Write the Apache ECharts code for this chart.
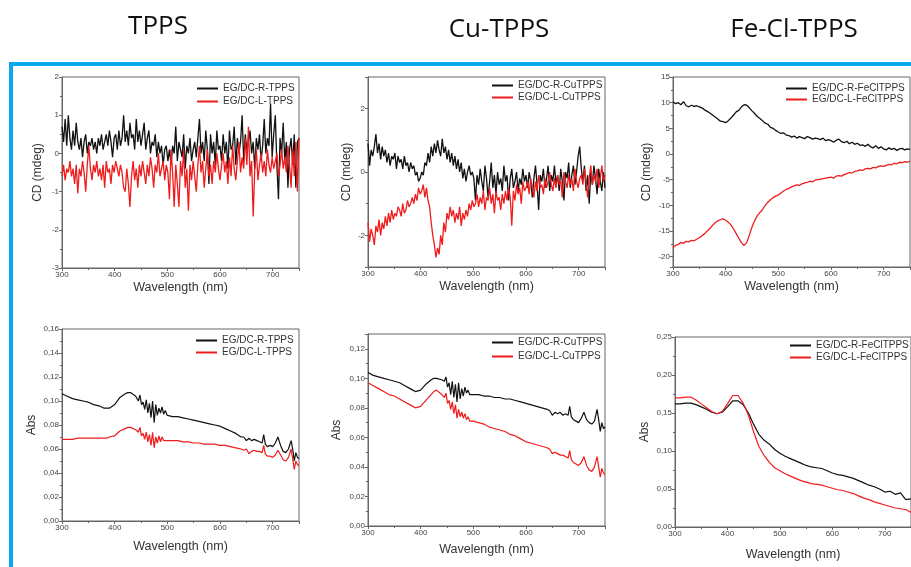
<!DOCTYPE html>
<html>
<head>
<meta charset="utf-8">
<script src="https://cdn.jsdelivr.net/npm/echarts@6/dist/echarts.min.js"></script>
<style>
html,body{margin:0;padding:0;background:#fff;}
#chart{width:911px;height:567px;}
</style>
</head>
<body>
<div id="chart"></div>
<script>
// ---------- Panel titles ----------
const PANEL_TITLES = ['TPPS', 'Cu-TPPS', 'Fe-Cl-TPPS'];
const SERIES_NAMES = [
  ['EG/DC-R-TPPS', 'EG/DC-L-TPPS'],
  ['EG/DC-R-CuTPPS', 'EG/DC-L-CuTPPS'],
  ['EG/DC-R-FeClTPPS', 'EG/DC-L-FeClTPPS']
];

// ---------- Wavelength grids ----------
const CD_STEP3_START = 300, CD_STEP3 = 3;   // TPPS & CuTPPS CD (noisy)
const CD_STEP5_START = 300, CD_STEP5 = 5;   // FeClTPPS CD
const ABS_WL = [300,310,320,330,340,350,360,370,380,385,390,400,410,420,425,430,440,
  445,448,451,454,457,460,463,466,469,472,475,478,481,484,487,490,493,496,
  500,510,520,530,540,550,560,570,580,590,600,610,620,630,640,
  645,650,655,660,665,670,675,680,683,686,
  690,695,700,705,710,715,720,725,730,735,738,741,744,747,750];
const FE_ABS_START = 300, FE_ABS_STEP = 10;

// ---------- CD TPPS ----------
const CD_TPPS_R = [
  0.7,0.3,0.9,0.2,1.0,0.4,0.1,0.6,0.2,0.8,0.3,
  0.1,0.4,-0.1,0.3,0.5,0.0,0.3,0.2,0.4,0.1,
  0.3,0.0,0.4,0.2,0.5,0.1,0.3,0.5,0.2,0.6,0.3,-0.1,0.4,
  0.5,0.1,0.6,0.2,0.4,1.0,0.3,0.6,0.2,0.8,0.4,0.5,0.1,0.9,0.3,0.6,0.2,
  0.5,0.8,0.1,0.4,0.6,0.0,0.3,0.2,0.5,-0.1,0.3,0.0,0.2,-0.3,0.1,0.2,-0.2,
  0.1,-0.3,0.2,0.0,0.7,-0.2,0.3,0.1,-0.1,0.5,-0.4,0.2,0.0,0.4,-0.2,0.1,0.3,
  -0.1,0.4,0.9,0.0,0.3,-0.2,0.6,0.1,-0.8,0.5,0.0,0.3,-0.3,0.6,0.1,0.2,
  -0.2,0.5,0.0,0.3,-0.4,0.6,0.1,0.2,0.7,-0.3,0.4,0.0,0.3,1.0,-0.2,0.5,0.1,
  0.3,0.6,0.0,0.3,-0.4,0.4,0.1,0.5,-0.2,0.2,0.9,0.0,0.4,0.2,1.3,-0.1,0.5,
  1.0,-0.3,-1.2,0.4,0.0,0.8,-0.2,0.3,-0.9,0.1,0.4,-0.3,0.5,-0.9,0.3,0.4
];
const CD_TPPS_L = [
  -0.6,-0.3,-0.7,-0.4,-0.5,-0.2,-0.6,-0.4,-0.8,-0.3,-1.05,
  -0.4,-0.6,-0.2,-0.5,-1.0,-0.3,0.2,-0.4,-0.7,-0.3,
  -0.5,-0.2,-0.6,-0.4,-0.7,-0.3,-0.9,-0.2,-0.5,-0.4,-0.8,-0.3,-0.5,
  -0.2,-0.4,-0.6,-0.3,-0.5,-0.9,-1.0,-0.4,-0.8,-1.4,-0.6,-0.2,-0.7,-0.4,-0.9,-0.3,-0.6,
  -0.2,-0.5,-0.8,-0.3,-0.6,-0.1,-0.4,-0.9,-0.3,-0.5,0.0,-0.6,-0.4,-0.2,-0.7,-0.3,-0.5,
  -1.2,0.1,-0.5,-1.4,-0.3,-0.8,-1.4,-0.2,-0.6,0.1,-0.9,-0.4,-1.5,-0.3,-0.7,-0.2,-0.6,
  -1.0,-0.3,0.2,-0.5,-0.2,-0.9,-0.4,0.1,-0.6,-0.3,-0.8,-0.2,-0.5,0.0,-0.4,-0.7,
  -0.3,0.0,-0.5,-0.2,-0.8,-0.1,-0.6,0.2,-0.4,-0.7,-0.2,0.3,-0.5,-0.1,-0.4,0.4,-0.3,
  0.7,-0.6,-0.2,-1.65,-0.4,0.1,-0.7,-0.3,0.0,-0.5,-0.2,-0.6,0.1,-0.3,-0.5,-0.1,-0.4,
  -0.2,0.0,-0.6,-0.3,0.1,-0.4,-0.1,-0.5,0.2,-0.3,-0.9,0.1,-0.6,0.3,-1.0,0.4
];

// ---------- CD CuTPPS ----------
const CD_CU_R = [
  0.9,0.2,0.7,0.5,0.8,1.2,0.6,0.9,0.4,0.8,0.5,
  0.7,0.3,0.6,0.2,0.5,0.4,0.6,0.1,0.5,0.3,
  0.4,0.1,0.5,0.2,0.3,0.0,0.3,0.1,0.2,-0.1,0.0,-0.3,-0.2,
  0.0,-0.1,0.3,0.2,0.6,0.3,0.8,0.5,0.9,0.6,1.0,0.7,0.5,1.05,0.6,0.8,0.4,
  0.7,0.3,0.6,0.2,0.5,0.1,0.4,0.0,0.3,-0.2,0.1,-0.3,0.0,0.2,-0.1,0.0,-0.2,
  -0.9,-0.1,-0.4,0.1,-0.3,-0.6,0.2,-0.2,-0.8,-0.3,0.3,-0.5,-0.1,-0.7,0.0,-0.4,-0.2,
  -0.6,0.2,-0.3,-0.1,-0.9,-0.2,0.1,-0.5,-0.3,0.0,-0.6,-0.2,-0.4,0.1,-0.3,-0.1,
  -0.5,0.0,-0.3,-0.8,-0.2,0.2,-0.4,-1.2,-0.1,-0.3,0.1,-0.5,-0.2,0.2,-0.6,-0.1,-0.3,
  0.2,-0.4,-0.1,-0.6,0.1,-0.3,-0.9,0.0,-0.2,0.3,-0.5,-0.1,0.2,-0.4,0.0,0.5,0.8,
  0.1,-0.3,0.2,-0.6,-0.1,-1.0,0.0,-0.4,0.2,-0.2,-0.7,0.1,-0.3,-0.6,0.0,-0.5
];
const CD_CU_L = [
  -1.6,-2.2,-1.8,-2.0,-2.3,-1.7,-1.9,-1.5,-2.0,-1.6,-1.8,
  -1.4,-1.7,-1.3,-1.6,-1.2,-1.5,-1.3,-1.4,-1.1,-1.2,
  -1.4,-1.0,-1.3,-1.2,-0.9,-1.1,-1.0,-0.8,-1.0,-0.7,-0.9,-0.5,-0.7,
  -0.6,-0.4,-0.8,-0.5,-0.9,-1.1,-1.6,-2.0,-2.3,-2.7,-2.4,-2.6,-2.0,-2.3,-1.6,-1.9,-1.3,
  -1.5,-1.1,-1.4,-1.2,-1.6,-1.3,-1.5,-1.1,-1.7,-1.3,-1.5,-1.2,-1.4,-1.0,-1.2,-0.9,-1.1,
  -1.0,-0.7,-1.1,-0.8,-1.0,-0.6,-1.2,-0.8,-0.9,-0.5,-1.0,-0.7,-1.3,-0.6,-0.9,-0.8,-1.2,
  -0.7,-1.0,-0.6,-0.9,-0.5,-0.8,-1.7,-0.6,-0.9,-0.4,-0.7,-0.5,-1.0,-0.3,-0.6,-0.5,
  -0.3,-0.7,-0.2,-0.5,-0.8,-0.3,-0.6,-0.1,-0.5,-0.4,-0.7,-0.2,-0.5,-0.3,0.0,-0.4,-0.6,
  -0.2,-0.5,-0.1,-0.4,-0.3,-0.8,0.0,-0.3,-0.5,-0.1,-0.4,-0.2,-0.6,0.1,-0.3,-0.5,-0.2,
  -0.1,-0.4,0.1,-0.3,-0.8,-0.2,0.2,-0.4,-0.1,-0.3,0.1,-0.5,-0.2,0.2,-0.3,-0.1
];

// ---------- CD FeClTPPS (5 nm step) ----------
const CD_FE_R = [
  10.2,9.8,10.0,9.6,10.2,9.4,9.2,9.5,9.3,9.4,
  9.2,9.0,8.6,8.3,8.0,7.6,7.2,6.8,6.4,6.3,
  6.1,6.5,7.0,7.6,8.2,8.5,9.2,9.6,9.5,9.0,
  8.4,7.9,7.3,6.9,6.5,6.0,5.8,5.2,5.0,4.6,
  4.3,4.0,4.1,3.7,3.6,3.3,3.5,3.1,3.4,3.2,
  3.0,3.4,3.2,2.9,3.1,3.0,2.8,3.1,2.6,2.8,
  2.6,2.3,2.7,2.9,2.4,2.2,2.5,2.0,2.3,1.9,
  2.1,1.7,1.8,1.5,1.9,1.4,1.2,1.6,1.1,1.4,
  1.0,0.8,1.2,0.9,1.1,0.7,1.0,1.1,0.8,1.0,
  0.9
];
const CD_FE_L = [
  -18.2,-17.8,-17.6,-17.2,-17.4,-17.0,-17.1,-16.8,-16.9,-16.6,
  -16.3,-15.9,-15.5,-15.0,-14.5,-13.9,-13.4,-13.0,-12.8,-12.6,
  -12.9,-13.3,-13.8,-14.6,-15.5,-16.4,-17.3,-17.8,-17.2,-15.8,
  -14.2,-13.0,-12.0,-11.4,-10.8,-10.0,-9.4,-8.9,-8.5,-8.2,
  -8.0,-7.6,-7.2,-6.9,-6.7,-6.4,-6.2,-6.0,-6.1,-5.8,
  -5.6,-5.5,-5.3,-5.4,-5.1,-5.0,-4.9,-4.8,-4.7,-4.6,
  -4.5,-4.7,-4.3,-4.2,-4.3,-4.0,-3.8,-3.6,-3.7,-3.4,
  -3.3,-3.1,-3.2,-2.9,-2.8,-2.9,-2.6,-2.7,-2.4,-2.3,
  -2.4,-2.2,-2.0,-2.1,-1.8,-1.9,-1.6,-1.7,-1.5,-1.6,
  -1.4
];

// ---------- Abs TPPS ----------
const ABS_TPPS_R = [
  0.106,0.104,0.102,0.101,0.100,0.099,0.097,0.096,0.094,0.094,0.094,
  0.097,0.103,0.106,0.107,0.107,0.104,
  0.100,0.105,0.097,0.099,0.093,0.101,0.090,0.098,0.086,0.100,0.082,0.097,0.088,0.094,0.090,0.095,0.089,0.092,
  0.088,0.087,0.087,0.086,0.085,0.084,0.083,0.082,0.081,0.080,0.079,0.077,0.075,0.073,0.070,
  0.070,0.067,0.069,0.067,0.068,0.067,0.066,0.065,0.072,0.064,
  0.062,0.063,0.062,0.065,0.070,0.063,0.058,0.057,0.060,0.067,0.060,0.050,0.057,0.053,0.052
];
const ABS_TPPS_L = [
  0.068,0.068,0.068,0.069,0.069,0.069,0.069,0.069,0.069,0.069,0.070,
  0.071,0.075,0.077,0.078,0.078,0.076,
  0.074,0.078,0.071,0.073,0.068,0.074,0.066,0.072,0.063,0.074,0.061,0.070,0.065,0.071,0.066,0.070,0.067,0.068,
  0.067,0.067,0.067,0.066,0.066,0.065,0.065,0.064,0.064,0.064,0.063,0.063,0.062,0.061,0.060,
  0.059,0.060,0.056,0.058,0.059,0.058,0.058,0.057,0.063,0.056,
  0.054,0.054,0.053,0.055,0.059,0.055,0.051,0.050,0.053,0.060,0.052,0.043,0.050,0.047,0.046
];

// ---------- Abs CuTPPS ----------
const ABS_CU_R = [
  0.104,0.102,0.101,0.100,0.099,0.098,0.097,0.095,0.093,0.092,0.091,
  0.092,0.096,0.099,0.100,0.100,0.099,
  0.098,0.101,0.094,0.097,0.089,0.098,0.087,0.096,0.084,0.097,0.086,0.093,0.088,0.094,0.090,0.092,0.089,0.090,
  0.089,0.089,0.088,0.088,0.087,0.087,0.086,0.086,0.085,0.084,0.083,0.082,0.081,0.080,0.079,
  0.078,0.075,0.077,0.076,0.077,0.075,0.076,0.075,0.081,0.074,
  0.072,0.071,0.070,0.073,0.077,0.072,0.070,0.069,0.071,0.079,0.072,0.064,0.070,0.066,0.067
];
const ABS_CU_L = [
  0.097,0.095,0.093,0.091,0.089,0.088,0.086,0.084,0.082,0.081,0.080,
  0.081,0.085,0.089,0.091,0.092,0.089,
  0.087,0.090,0.083,0.085,0.079,0.084,0.076,0.082,0.073,0.079,0.074,0.077,0.073,0.076,0.072,0.074,0.071,0.072,
  0.071,0.070,0.069,0.067,0.066,0.065,0.064,0.062,0.061,0.059,0.057,0.056,0.055,0.054,0.053,
  0.052,0.049,0.050,0.049,0.048,0.048,0.047,0.046,0.051,0.045,
  0.043,0.042,0.041,0.043,0.047,0.041,0.038,0.037,0.040,0.047,0.040,0.033,0.039,0.036,0.035
];

// ---------- Abs FeClTPPS (10 nm step) ----------
const ABS_FE_R = [
  0.162,0.162,0.163,0.163,0.161,0.158,0.155,0.151,0.149,0.151,
  0.158,0.166,0.166,0.161,0.150,0.135,0.122,0.114,0.109,0.102,
  0.097,0.093,0.090,0.087,0.084,0.081,0.079,0.078,0.077,0.074,
  0.071,0.069,0.068,0.066,0.064,0.061,0.058,0.055,0.053,0.050,
  0.046,0.047,0.043,0.045,0.036,0.037
];
const ABS_FE_L = [
  0.170,0.170,0.171,0.171,0.167,0.162,0.157,0.152,0.149,0.152,
  0.162,0.173,0.173,0.163,0.147,0.125,0.106,0.094,0.085,0.078,
  0.074,0.070,0.067,0.064,0.061,0.059,0.057,0.056,0.055,0.053,
  0.051,0.049,0.048,0.046,0.044,0.041,0.038,0.036,0.033,0.031,
  0.029,0.027,0.025,0.024,0.023,0.019
];

// ---------- helpers ----------
function gridPairs(start, step, vals) {
  return vals.map((v, i) => [start + i * step, v]);
}
function listPairs(xs, vals) {
  return vals.map((v, i) => [xs[i], v]);
}

const FONT = '"Liberation Sans", Arial, sans-serif';
const AXIS_COLOR = '#666';
const BLACK = '#111111';
const RED = '#ee1c1c';

// layout of the six plot boxes
const GRIDS = [
  {left: 62,  top: 77,  width: 237, height: 191},
  {left: 368, top: 77,  width: 237, height: 190},
  {left: 673, top: 77,  width: 237, height: 190},
  {left: 62,  top: 329, width: 237, height: 192},
  {left: 368, top: 334, width: 237, height: 192},
  {left: 675, top: 337, width: 238, height: 190}
];

function xAxisFor(i, nameGap) {
  return {
    type: 'value', gridIndex: i, min: 300, max: 750, interval: 100,
    name: 'Wavelength (nm)', nameLocation: 'middle', nameGap: nameGap,
    nameTextStyle: {fontFamily: FONT, fontSize: 12.5, color: '#333'},
    axisLine: {onZero: false, lineStyle: {color: AXIS_COLOR, width: 1}},
    axisTick: {show: true, length: 3, inside: false, lineStyle: {color: AXIS_COLOR}},
    minorTick: {show: true, splitNumber: 2, length: 2, lineStyle: {color: AXIS_COLOR}},
    axisLabel: {fontFamily: FONT, fontSize: 8, color: '#444', margin: 3, showMaxLabel: false},
    splitLine: {show: false}
  };
}
const YLABEL = {fontFamily: FONT, fontSize: 8, color: '#444', margin: 3};
function yAxisFor(i, opt) {
  return Object.assign({
    type: 'value', gridIndex: i,
    nameLocation: 'middle',
    nameTextStyle: {fontFamily: FONT, fontSize: 12, color: '#333'},
    axisLine: {show: true, onZero: false, lineStyle: {color: AXIS_COLOR, width: 1}},
    axisTick: {show: true, length: 3, inside: false, lineStyle: {color: AXIS_COLOR}},
    minorTick: {show: true, splitNumber: 2, length: 2, lineStyle: {color: AXIS_COLOR}},
    axisLabel: YLABEL,
    splitLine: {show: false}
  }, opt);
}
function commaFmt(d) {
  return v => v.toFixed(d).replace('.', ',');
}
function lineSeries(name, i, data, color, w) {
  return {
    type: 'line', name: name, xAxisIndex: i, yAxisIndex: i, data: data,
    showSymbol: false, symbol: 'none', animation: false,
    lineStyle: {color: color, width: w}, itemStyle: {color: color},
    clip: true
  };
}
function legendFor(names, left, top, gap) {
  return {
    data: names, left: left, top: top, orient: 'vertical',
    icon: 'rect', itemWidth: 21, itemHeight: 2, itemGap: gap,
    textStyle: {fontFamily: FONT, fontSize: 10, color: '#333', lineHeight: 11},
    padding: 0, selectedMode: false
  };
}

const option = {
  backgroundColor: '#ffffff',
  animation: false,
  grid: GRIDS.map(g => Object.assign({show: true, borderColor: AXIS_COLOR, borderWidth: 1, backgroundColor: 'transparent'}, g)),
  xAxis: [xAxisFor(0, 13), xAxisFor(1, 13), xAxisFor(2, 13), xAxisFor(3, 19), xAxisFor(4, 17), xAxisFor(5, 21)],
  yAxis: [
    yAxisFor(0, {min: -3, max: 2, interval: 1, name: 'CD (mdeg)', nameGap: 18}),
    yAxisFor(1, {min: -3, max: 3, minInterval: 2, maxInterval: 2, name: 'CD (mdeg)', nameGap: 15,
      axisLabel: Object.assign({}, YLABEL, {showMinLabel: false, showMaxLabel: false})}),
    yAxisFor(2, {min: -22, max: 15, minInterval: 5, maxInterval: 5, name: 'CD (mdeg)', nameGap: 20,
      axisLabel: Object.assign({}, YLABEL, {showMinLabel: false})}),
    yAxisFor(3, {min: 0, max: 0.16, interval: 0.02, name: 'Abs', nameGap: 24,
      axisLabel: Object.assign({}, YLABEL, {formatter: commaFmt(2)})}),
    yAxisFor(4, {min: 0, max: 0.13, interval: 0.02, name: 'Abs', nameGap: 25,
      axisLabel: Object.assign({}, YLABEL, {showMaxLabel: false, formatter: commaFmt(2)})}),
    yAxisFor(5, {min: 0, max: 0.25, interval: 0.05, name: 'Abs', nameGap: 24,
      axisLabel: Object.assign({}, YLABEL, {formatter: commaFmt(2)})})
  ],
  legend: [
    legendFor(SERIES_NAMES[0], 197, 83, 2),
    legendFor(SERIES_NAMES[1], 492, 80, 1),
    legendFor(SERIES_NAMES[2], 786, 83, 0),
    legendFor(SERIES_NAMES[0], 196, 335, 1),
    legendFor(SERIES_NAMES[1], 492, 337, 3),
    legendFor(SERIES_NAMES[2], 790, 340, 1)
  ],
  series: [
    lineSeries(SERIES_NAMES[0][0], 0, gridPairs(CD_STEP3_START, CD_STEP3, CD_TPPS_R), BLACK, 1.3),
    lineSeries(SERIES_NAMES[0][1], 0, gridPairs(CD_STEP3_START, CD_STEP3, CD_TPPS_L), RED, 1.3),
    lineSeries(SERIES_NAMES[1][0], 1, gridPairs(CD_STEP3_START, CD_STEP3, CD_CU_R), BLACK, 1.3),
    lineSeries(SERIES_NAMES[1][1], 1, gridPairs(CD_STEP3_START, CD_STEP3, CD_CU_L), RED, 1.3),
    lineSeries(SERIES_NAMES[2][0], 2, gridPairs(CD_STEP5_START, CD_STEP5, CD_FE_R), BLACK, 1.3),
    lineSeries(SERIES_NAMES[2][1], 2, gridPairs(CD_STEP5_START, CD_STEP5, CD_FE_L), RED, 1.3),
    lineSeries(SERIES_NAMES[0][0], 3, listPairs(ABS_WL, ABS_TPPS_R), BLACK, 1.2),
    lineSeries(SERIES_NAMES[0][1], 3, listPairs(ABS_WL, ABS_TPPS_L), RED, 1.2),
    lineSeries(SERIES_NAMES[1][0], 4, listPairs(ABS_WL, ABS_CU_R), BLACK, 1.2),
    lineSeries(SERIES_NAMES[1][1], 4, listPairs(ABS_WL, ABS_CU_L), RED, 1.2),
    lineSeries(SERIES_NAMES[2][0], 5, gridPairs(FE_ABS_START, FE_ABS_STEP, ABS_FE_R), BLACK, 1.2),
    lineSeries(SERIES_NAMES[2][1], 5, gridPairs(FE_ABS_START, FE_ABS_STEP, ABS_FE_L), RED, 1.2)
  ],
  graphic: [
    {type: 'rect', shape: {x: 9, y: 62, width: 902, height: 4}, style: {fill: '#0aa8ea'}, silent: true},
    {type: 'rect', shape: {x: 9, y: 62, width: 4, height: 505}, style: {fill: '#0aa8ea'}, silent: true},
    {type: 'text', x: 158, y: 27, style: {text: PANEL_TITLES[0], fontFamily: '"Open Sans", "Noto Sans", sans-serif', fontSize: 26, fill: '#111', align: 'center', verticalAlign: 'middle'}},
    {type: 'text', x: 499, y: 30, style: {text: PANEL_TITLES[1], fontFamily: '"Open Sans", "Noto Sans", sans-serif', fontSize: 26, fill: '#111', align: 'center', verticalAlign: 'middle'}},
    {type: 'text', x: 794, y: 30, style: {text: PANEL_TITLES[2], fontFamily: '"Open Sans", "Noto Sans", sans-serif', fontSize: 26, fill: '#111', align: 'center', verticalAlign: 'middle'}}
  ]
};

const chart = echarts.init(document.getElementById('chart'), null, {renderer: 'canvas'});
chart.setOption(option);
</script>
</body>
</html>
